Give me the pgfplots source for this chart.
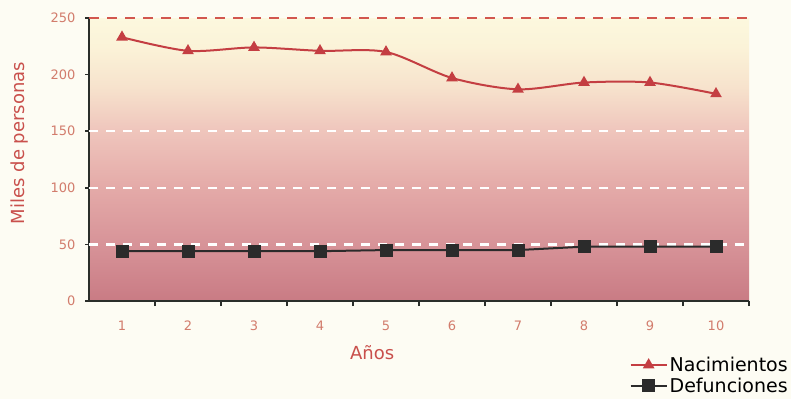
\documentclass[border=0pt]{standalone}
\usepackage{fontspec}
\setmainfont{DejaVu Sans}
\usepackage{pgfplots}
\pgfplotsset{compat=1.18}

\definecolor{pagebg}{HTML}{FDFCF3}
\definecolor{nacred}{HTML}{C43E42}
\definecolor{defdark}{HTML}{2B2B2B}
\definecolor{axisdark}{HTML}{2A2E2A}
\definecolor{ticklab}{HTML}{D27C6C}
\definecolor{labred}{HTML}{C9504C}
\definecolor{gridred}{HTML}{D2574E}
% background stops, from y = 0 (bottom) to y = 250 (top)
\definecolor{bg0}{HTML}{C97B84}
\definecolor{bg1}{HTML}{D79398}
\definecolor{bg2}{HTML}{E4AAA8}
\definecolor{bg3}{HTML}{EFC5BC}
\definecolor{bg4}{HTML}{F7E3CD}
\definecolor{bg5}{HTML}{FBF3D8}
\definecolor{bg6}{HTML}{FCF8DE}
% the path box maps onto 25bp..75bp of the shading
\pgfdeclareverticalshading{plotbg}{100bp}{%
  color(0bp)=(bg0); color(25bp)=(bg0); color(35bp)=(bg1); color(45bp)=(bg2);
  color(55bp)=(bg3); color(63bp)=(bg4); color(70bp)=(bg5); color(75bp)=(bg6);
  color(100bp)=(bg6)}

\begin{document}
\begin{tikzpicture}
\fill[pagebg] (0,0) rectangle (791pt,399pt);
\path[use as bounding box] (0,0) rectangle (791pt,399pt);
\begin{axis}[
  at={(89pt,98pt)}, anchor=south west,
  scale only axis, width=660pt, height=283pt,
  xmin=0.5, xmax=10.5, ymin=0, ymax=250,
  clip=false,
  axis background/.style={shading=plotbg},
  axis x line*=bottom, axis y line*=left,
  axis line style={-, line width=2.8pt, color=axisdark},
  xtick={1,...,10},
  minor xtick={1.5,2.5,...,10.5},
  ytick={0,50,...,250},
  tick align=outside,
  major x tick style={draw=none},
  minor tick length=5pt, major tick length=4pt,
  every tick/.style={axisdark, line width=1.6pt},
  extra y ticks={50,100,150},
  extra y tick labels={},
  extra y tick style={grid=major, major tick length=0pt,
    major grid style={white, line width=2.2pt, dash pattern=on 9pt off 8pt}},
  /pgf/number format/assume math mode=true,
  tick label style={font=\fontsize{13}{15}\selectfont, text=ticklab},
  yticklabel style={xshift=-6pt},
  xticklabel style={yshift=-12pt},
  xlabel={Años},
  ylabel={Miles de personas},
  label style={font=\fontsize{18}{21}\selectfont, text=labred},
  xlabel style={at={(axis description cs:0.429,-0.184)}, anchor=center},
  ylabel style={at={(axis description cs:-0.1045,0.558)}, anchor=center},
  legend style={at={(axis description cs:1.062,-0.19)}, anchor=north east,
    draw=none, fill=none, inner sep=0pt, row sep=1pt,
    font=\fontsize{19}{22}\selectfont, text=black},
  legend cell align=left,
  legend image code/.code={%
    \draw[mark repeat=2, mark phase=2] plot coordinates {(0pt,0pt) (18pt,0pt) (36pt,0pt)};},
]
\draw[gridred, line width=2pt, dash pattern=on 10pt off 8pt]
  (axis cs:0.5,250) -- (axis cs:10.55,250);

\addplot[nacred, line width=2pt, smooth, tension=0.5,
  mark=triangle*, mark size=4.8pt, mark options={solid}]
  coordinates {(1,233) (2,221) (3,224) (4,221) (5,220)
               (6,197) (7,187) (8,193) (9,193) (10,183)};
\addlegendentry{Nacimientos}

\addplot[defdark, line width=2pt,
  mark=square*, mark size=5.5pt, mark options={solid}]
  coordinates {(1,44) (2,44) (3,44) (4,44) (5,45)
               (6,45) (7,45) (8,48) (9,48) (10,48)};
\addlegendentry{Defunciones}
\end{axis}
\end{tikzpicture}
\end{document}
